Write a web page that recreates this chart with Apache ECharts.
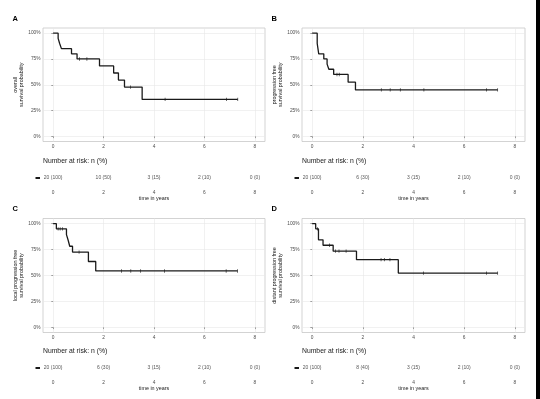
<!DOCTYPE html>
<html>
<head>
<meta charset="utf-8">
<script src="https://cdn.jsdelivr.net/npm/echarts@6/dist/echarts.min.js"></script>
<style>html,body{margin:0;background:#fff}#c{width:540px;height:399px}</style>
</head>
<body>
<div id="c"></div>
<script>
// survival curves (time in years, survival in %)
var timeA = [0, 0.20, 0.26, 0.33, 0.73, 0.95, 1.84, 2.40, 2.59, 2.83, 3.53, 7.32];
var survA = [100, 95, 90, 85, 80, 75, 68.2, 61.4, 54.5, 47.7, 35.8, 35.8];
var censTimeA = [1.05, 1.34, 3.07, 4.44, 6.87, 7.32];
var censSurvA = [75, 75, 47.7, 35.8, 35.8, 35.8];

var timeB = [0, 0.20, 0.26, 0.46, 0.59, 0.66, 0.85, 1.42, 1.71, 7.32];
var survB = [100, 90, 80, 75, 70, 65, 60, 52.5, 45, 45];
var censTimeB = [0.98, 1.07, 2.73, 3.08, 3.48, 4.41, 6.88, 7.32];
var censSurvB = [60, 60, 45, 45, 45, 45, 45, 45];

var timeC = [0, 0.13, 0.53, 0.60, 0.66, 0.77, 1.40, 1.69, 7.31];
var survC = [100, 95, 89.4, 83.8, 78.2, 72.6, 63.5, 54.4, 54.4];
var censTimeC = [0.20, 0.28, 0.37, 1.03, 2.71, 3.08, 3.47, 4.42, 6.86, 7.31];
var censSurvC = [95, 95, 95, 72.6, 54.4, 54.4, 54.4, 54.4, 54.4, 54.4];

var timeD = [0, 0.14, 0.25, 0.43, 0.83, 1.75, 3.40, 7.32];
var survD = [100, 95, 84.4, 79.2, 73.5, 65.3, 52.3, 52.3];
var censTimeD = [0.21, 0.69, 0.92, 1.06, 1.34, 2.72, 2.85, 3.07, 4.39, 6.88, 7.32];
var censSurvD = [95, 79.2, 73.5, 73.5, 73.5, 65.3, 65.3, 65.3, 52.3, 52.3, 52.3];

// number at risk tables
var riskTimes = [0, 2, 4, 6, 8];
var riskNA = [20, 10, 3, 2, 0], riskPctA = [100, 50, 15, 10, 0];
var riskNB = [20, 6, 3, 2, 0], riskPctB = [100, 30, 15, 10, 0];
var riskNC = [20, 6, 3, 2, 0], riskPctC = [100, 30, 15, 10, 0];
var riskND = [20, 8, 3, 2, 0], riskPctD = [100, 40, 15, 10, 0];

var xTicks = [0, 2, 4, 6, 8];
var yTicks = [0, 25, 50, 75, 100];

var panels = [
  {letter: 'A', ytitle: 'overall\nsurvival probability', time: timeA, surv: survA, ct: censTimeA, cs: censSurvA, rn: riskNA, rp: riskPctA},
  {letter: 'B', ytitle: 'progression free\nsurvival probability', time: timeB, surv: survB, ct: censTimeB, cs: censSurvB, rn: riskNB, rp: riskPctB},
  {letter: 'C', ytitle: 'local progression free\nsurvival probability', time: timeC, surv: survC, ct: censTimeC, cs: censSurvC, rn: riskNC, rp: riskPctC},
  {letter: 'D', ytitle: 'distant progression free\nsurvival probability', time: timeD, surv: survD, ct: censTimeD, cs: censSurvD, rn: riskND, rp: riskPctD}
];

// layout of the 2x2 figure
var colLeft = [43, 302], colWidth = [222, 223];
var rowTop = [28, 218.5], rowHeight = [113.5, 114];
var riskTop = [171, 361];

var tickCol = '#4d4d4d';
var grids = [], xAxes = [], yAxes = [], series = [], titles = [];

panels.forEach(function (p, k) {
  var c = k % 2, r = Math.floor(k / 2);
  var gi = grids.length;
  grids.push({left: colLeft[c], top: rowTop[r], width: colWidth[c], height: rowHeight[r],
    show: true, borderColor: '#c8c8c8', borderWidth: 0.8, backgroundColor: 'transparent'});
  grids.push({left: colLeft[c], top: riskTop[r], width: colWidth[c], height: 14});

  xAxes.push({gridIndex: gi, type: 'value', min: -0.4, max: 8.4,
    axisLine: {show: false},
    axisTick: {show: true, customValues: xTicks, length: 1.8, lineStyle: {color: tickCol, width: 0.5}},
    axisLabel: {customValues: xTicks, fontSize: 4.8, color: tickCol, margin: 2.5},
    splitLine: {show: true, lineStyle: {color: '#e8e8e8', width: 0.6}}});
  yAxes.push({gridIndex: gi, type: 'value', min: -5, max: 105,
    axisLine: {show: false},
    axisTick: {show: true, customValues: yTicks, length: 1.8, lineStyle: {color: tickCol, width: 0.5}},
    axisLabel: {customValues: yTicks, formatter: '{value}%', fontSize: 4.8, color: tickCol, margin: 2.5},
    splitLine: {show: true, lineStyle: {color: '#e8e8e8', width: 0.6}},
    name: p.ytitle, nameLocation: 'middle', nameGap: 16, nameRotate: 90,
    nameTextStyle: {fontSize: 5.4, lineHeight: 5.6, color: '#1a1a1a'}});

  xAxes.push({gridIndex: gi + 1, type: 'value', min: -0.4, max: 8.4,
    axisLine: {show: false}, axisTick: {show: false}, splitLine: {show: false},
    axisLabel: {customValues: xTicks, fontSize: 4.8, color: tickCol, margin: 5},
    name: 'time in years', nameLocation: 'middle', nameGap: 9.5,
    nameTextStyle: {fontSize: 5.4, color: '#1a1a1a'}});
  yAxes.push({gridIndex: gi + 1, type: 'category', data: ['all'],
    axisLine: {show: false}, axisTick: {show: false}, splitLine: {show: false},
    axisLabel: {margin: 3, formatter: '{b|}', rich: {b: {width: 4.5, height: 1.8, backgroundColor: '#000'}}}});

  series.push({type: 'line', xAxisIndex: gi, yAxisIndex: gi, step: 'end', symbol: 'none',
    lineStyle: {color: '#1a1a1a', width: 1.3},
    data: p.time.map(function (t, j) { return [t, p.surv[j]]; })});
  series.push({type: 'scatter', xAxisIndex: gi, yAxisIndex: gi, symbol: 'rect', symbolSize: [0.8, 3.4],
    itemStyle: {color: '#1a1a1a'},
    data: p.ct.map(function (t, j) { return [t, p.cs[j]]; })});
  series.push({type: 'scatter', xAxisIndex: gi + 1, yAxisIndex: gi + 1, symbolSize: 1,
    itemStyle: {color: 'transparent'},
    label: {show: true, position: 'inside', fontSize: 5, color: '#2a2a2a',
      formatter: function (q) { return q.data[2] + ' (' + q.data[3] + ')'; }},
    data: riskTimes.map(function (t, j) { return [t, 'all', p.rn[j], p.rp[j]]; })});

  titles.push({text: p.letter, left: c ? 271.5 : 12.5, top: r ? 204.5 : 15, padding: 0,
    textStyle: {fontSize: 7.5, fontWeight: 'bold', color: '#000'}});
  titles.push({text: 'Number at risk: n (%)', left: colLeft[c], top: riskTop[r] - 13.5, padding: 0,
    textStyle: {fontSize: 6.8, fontWeight: 'normal', color: '#1a1a1a'}});
});

var chart = echarts.init(document.getElementById('c'));
chart.setOption({
  animation: false,
  backgroundColor: '#fff',
  textStyle: {fontFamily: 'Liberation Sans, Arial, sans-serif'},
  title: titles,
  grid: grids,
  xAxis: xAxes,
  yAxis: yAxes,
  series: series,
  graphic: [{type: 'rect', right: 0, top: 0, shape: {width: 4, height: 399}, style: {fill: '#000'}}]
});
</script>
</body>
</html>
